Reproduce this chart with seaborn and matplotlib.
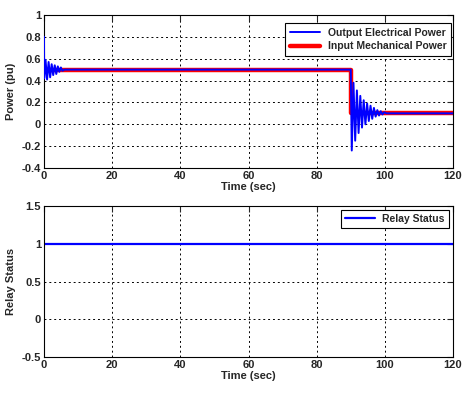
import matplotlib
matplotlib.use("Agg")
import matplotlib.pyplot as plt
import pandas as pd
import seaborn as sns

# Output electrical power: turning points
elec_t = [0.0, 0.0, 0.05, 0.45, 0.9, 1.35, 1.8, 2.25, 2.7, 3.15, 3.6, 4.05, 4.5, 4.95, 5.4, 6.0,
          90.0, 90.3, 90.8, 91.3, 91.8, 92.3, 92.8, 93.3, 93.8, 94.3, 94.8, 95.3, 95.8, 96.3,
          96.8, 97.3, 97.8, 98.3, 98.8, 99.3, 99.8, 100.5, 120.0]
elec_p = [0.45, 0.8, 0.42, 0.59, 0.41, 0.57, 0.43, 0.55, 0.45, 0.54, 0.46, 0.53, 0.48, 0.52, 0.49, 0.5,
          0.5, -0.24, 0.38, -0.15, 0.31, -0.08, 0.26, -0.03, 0.22, 0.0, 0.19, 0.03, 0.17, 0.05,
          0.15, 0.07, 0.13, 0.08, 0.12, 0.09, 0.11, 0.1, 0.1]

# Input mechanical power: step down at t = 90 s
mech_t = [0.0, 90.0, 90.0, 120.0]
mech_p = [0.5, 0.5, 0.1, 0.1]

# Relay status
relay_t = [0.0, 120.0]
relay_s = [1.0, 1.0]

x_ticks = [0, 20, 40, 60, 80, 100, 120]
top_yticks = [-0.4, -0.2, 0, 0.2, 0.4, 0.6, 0.8, 1]
top_ylabels = ["-0.4", "-0.2", "0", "0.2", "0.4", "0.6", "0.8", "1"]
bot_yticks = [-0.5, 0, 0.5, 1, 1.5]
bot_ylabels = ["-0.5", "0", "0.5", "1", "1.5"]

sns.set_style("white")
plt.rcParams["font.family"] = ["Liberation Sans", "DejaVu Sans"]
plt.rcParams["font.weight"] = "bold"

fig = plt.figure(figsize=(4.74, 3.93), dpi=100)
ax1 = fig.add_axes([44 / 474, 1 - 168 / 393, 409 / 474, 153 / 393])
ax2 = fig.add_axes([44 / 474, 1 - 357 / 393, 409 / 474, 151 / 393])

mech = pd.DataFrame({"t": mech_t, "p": mech_p})
elec = pd.DataFrame({"t": elec_t, "p": elec_p})
relay = pd.DataFrame({"t": relay_t, "s": relay_s})

sns.lineplot(data=mech, x="t", y="p", ax=ax1, color="#ff0000", lw=3.2, sort=False,
             estimator=None, label="Input Mechanical Power", zorder=2)
sns.lineplot(data=elec, x="t", y="p", ax=ax1, color="#0000ff", lw=1.4, sort=False,
             estimator=None, label="Output Electrical Power", zorder=3)
sns.lineplot(data=relay, x="t", y="s", ax=ax2, color="#0000ff", lw=1.6, sort=False,
             estimator=None, label="Relay Status")


def style(ax, yticks, ylabels, ylim, ylabel):
    ax.set_xlim(0, 120)
    ax.set_ylim(*ylim)
    ax.set_xticks(x_ticks)
    ax.set_xticklabels([str(v) for v in x_ticks])
    ax.set_yticks(yticks)
    ax.set_yticklabels(ylabels)
    ax.grid(True, color="black", linestyle=(0, (2, 3)), linewidth=0.7)
    ax.tick_params(direction="in", length=4, top=True, right=True, labelsize=8, width=0.8, pad=2)
    for s in ax.spines.values():
        s.set_color("black")
        s.set_linewidth(0.8)
        s.set_visible(True)
    ax.set_xlabel("Time (sec)", fontsize=8, fontweight="bold", labelpad=1)
    ax.set_ylabel(ylabel, fontsize=8, fontweight="bold", labelpad=4)


def frame(leg):
    leg.get_frame().set_edgecolor("black")
    leg.get_frame().set_linewidth(0.8)
    leg.get_frame().set_alpha(1)


style(ax1, top_yticks, top_ylabels, (-0.4, 1), "Power (pu)")
style(ax2, bot_yticks, bot_ylabels, (-0.5, 1.5), "Relay Status")

h, l = ax1.get_legend_handles_labels()
leg1 = ax1.legend(h[::-1], l[::-1], loc="upper right", bbox_to_anchor=(0.995, 0.948),
                  fontsize=7.5, frameon=True, fancybox=False, borderaxespad=0,
                  handlelength=2.9, handletextpad=0.7, borderpad=0.45, labelspacing=0.35)
frame(leg1)
leg2 = ax2.legend(loc="upper right", bbox_to_anchor=(0.99, 0.974), fontsize=7.5, frameon=True,
                  fancybox=False, borderaxespad=0, handlelength=2.9, handletextpad=0.7,
                  borderpad=0.4)
frame(leg2)

fig.savefig("out.png", dpi=100)
